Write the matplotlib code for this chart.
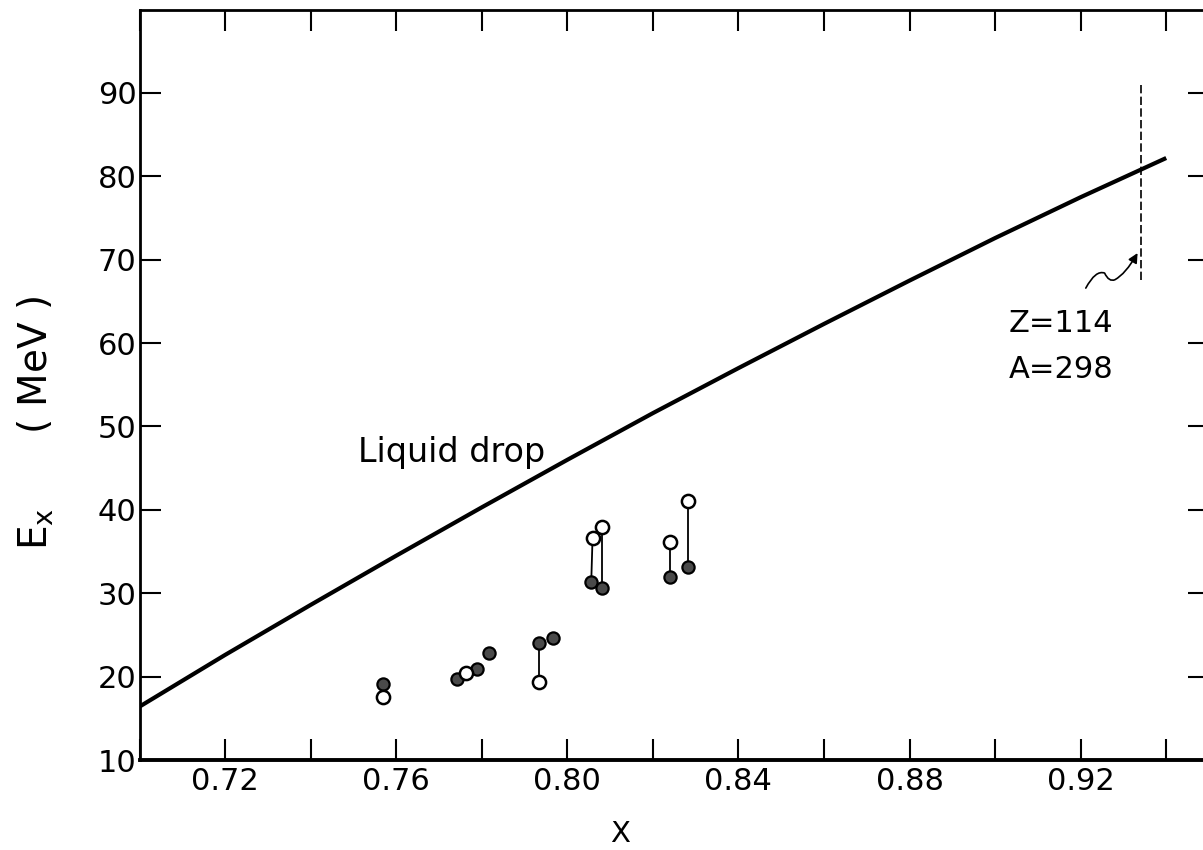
import matplotlib
matplotlib.use("Agg")
import matplotlib.pyplot as plt
from matplotlib.path import Path
from matplotlib.patches import FancyArrowPatch

# Liquid drop curve
ld_x = [0.70, 0.72, 0.74, 0.76, 0.78, 0.80, 0.82, 0.84, 0.86, 0.88, 0.90, 0.92, 0.94]
ld_y = [16.4, 22.6, 28.6, 34.5, 40.3, 46.0, 51.6, 57.0, 62.3, 67.5, 72.6, 77.5, 82.2]

# Open circles
open_x = [0.7570, 0.7764, 0.7935, 0.8059, 0.8082, 0.8239, 0.8281]
open_y = [17.5, 20.4, 19.4, 36.6, 37.9, 36.2, 41.1]

# Filled (hatched) circles
fill_x = [0.7569, 0.7742, 0.7790, 0.7818, 0.7935, 0.7967, 0.8056, 0.8082, 0.8239, 0.8281]
fill_y = [19.1, 19.7, 20.9, 22.8, 24.0, 24.6, 31.4, 30.6, 31.9, 33.1]

# pairs connected by a tie line: (open index, filled index)
ties = [(2, 4), (3, 6), (4, 7), (5, 8), (6, 9)]

# marker for Z=114, A=298
mark_x = 0.934
mark_y0, mark_y1 = 67.6, 90.9

x_ticks = [0.70 + 0.02 * i for i in range(13)]
x_labels = ["", "0.72", "", "0.76", "", "0.80", "", "0.84", "", "0.88", "", "0.92", ""]
y_ticks = [10, 20, 30, 40, 50, 60, 70, 80, 90]
y_labels = ["10", "20", "30", "40", "50", "60", "70", "80", "90"]

plt.rcParams['font.family'] = ['DejaVu Sans']
plt.rcParams['mathtext.default'] = 'regular'

W, H = 1203, 850
fig = plt.figure(figsize=(W / 100, H / 100), dpi=100)
left, right, bottom, top = 139.5 / W, 1209 / W, 1 - 760 / H, 1 - 9.6 / H
ax = fig.add_axes([left, bottom, right - left, top - bottom])
ax.set_xlim(0.70, 0.950)
ax.set_ylim(10, 100)

ax.plot(ld_x, ld_y, color='black', lw=3.0, solid_capstyle='butt', solid_joinstyle='round')

for oi, fi in ties:
    ax.plot([open_x[oi], fill_x[fi]], [open_y[oi], fill_y[fi]], color='black', lw=1.3, zorder=2)

ax.plot(fill_x, fill_y, linestyle='none', marker='o', markersize=8.8,
        markerfacecolor='#4a4a4a', markeredgecolor='black', markeredgewidth=1.6, zorder=3)
ax.plot(open_x, open_y, linestyle='none', marker='o', markersize=9.5,
        markerfacecolor='white', markeredgecolor='black', markeredgewidth=1.8, zorder=4)

ax.plot([mark_x, mark_x], [mark_y0, mark_y1], color='black', lw=1.2, linestyle=(0, (5, 2)))

# wavy pointer arrow
wave = Path([(0.9212, 66.6), (0.9235, 68.8), (0.9256, 68.4),
             (0.9266, 67.3), (0.9280, 67.6),
             (0.9305, 68.3), (0.9333, 70.8)],
            [Path.MOVETO, Path.CURVE3, Path.CURVE3,
             Path.CURVE3, Path.CURVE3,
             Path.CURVE3, Path.CURVE3])
ax.add_patch(FancyArrowPatch(path=wave, arrowstyle='-|>', mutation_scale=14,
                             color='black', lw=1.2))

ax.text(0.7511, 45.7, "Liquid drop", fontsize=24, ha='left', va='baseline')
ax.text(0.9032, 61.3, "Z=114", fontsize=22, ha='left', va='baseline')
ax.text(0.9032, 55.8, "A=298", fontsize=22, ha='left', va='baseline')

ax.set_xticks(x_ticks)
ax.set_xticklabels(x_labels)
ax.set_yticks(y_ticks)
ax.set_yticklabels(y_labels)
ax.tick_params(axis='both', direction='in', length=15, width=1.5,
               top=True, right=True, labelsize=22)
ax.tick_params(axis='x', pad=5)
ax.tick_params(axis='y', pad=2)

for s in ax.spines.values():
    s.set_linewidth(2.0)
ax.spines['bottom'].set_linewidth(2.8)

fig.text(620 / W, 1 - 834 / H, "X", fontsize=21, ha='center', va='center')
fig.text(36 / W, 1 - 423 / H, "E$_x$      ( MeV )", fontsize=28, rotation=90,
         ha='center', va='center')

fig.savefig("out.png", dpi=100)
